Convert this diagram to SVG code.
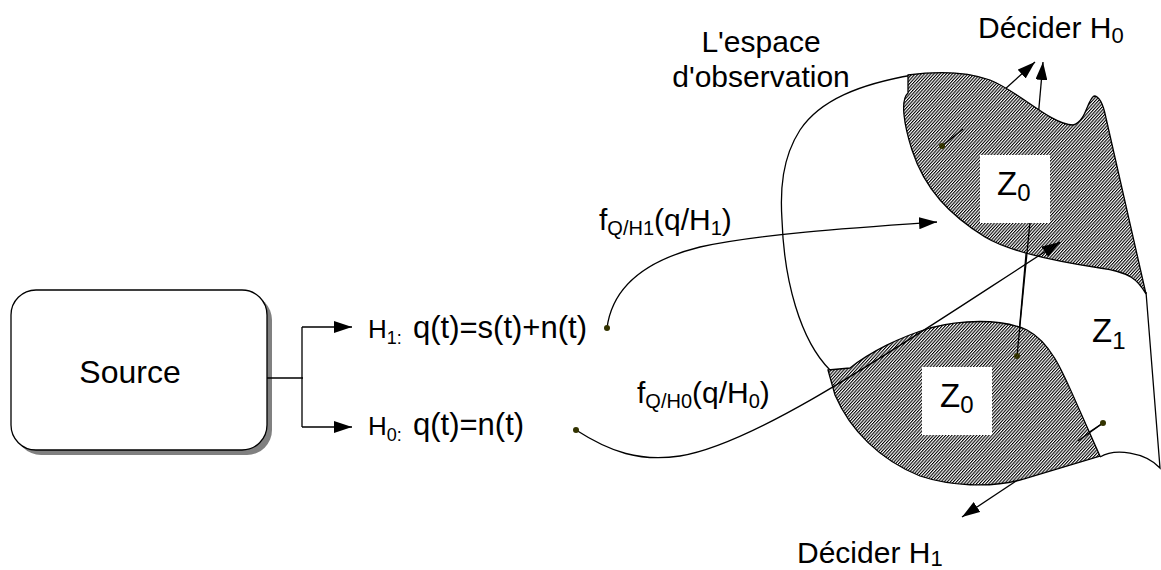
<svg xmlns="http://www.w3.org/2000/svg" width="1161" height="570" viewBox="0 0 1161 570">
<style>
text{font-family:"Liberation Sans",Arial,sans-serif;fill:#000}
.ln{fill:none;stroke:#000;stroke-width:1.3}
.rg{fill:url(#hatch);stroke:#000;stroke-width:1.3}
.dot{fill:#333300}
.zb{fill:#fff;stroke:none}
</style>
<defs>
<pattern id="hatch" width="2.3" height="10" patternUnits="userSpaceOnUse" patternTransform="rotate(42)">
<rect width="2.3" height="10" fill="#fff"/>
<line x1="0.55" y1="0" x2="0.55" y2="10" stroke="#000" stroke-width="1.1"/>
</pattern>
<marker id="ah" viewBox="0 0 18 12" refX="18" refY="6" markerUnits="userSpaceOnUse" markerWidth="18" markerHeight="12" orient="auto">
<path d="M0,0 L18,6 L0,12 Z" fill="#000"/>
</marker>
</defs>
<rect width="1161" height="570" fill="#fff"/>

<g id="source">
<rect x="16" y="295" width="256" height="160" rx="25" fill="#808080"/>
<rect x="11" y="290" width="256" height="160" rx="25" fill="#fff" stroke="#000" stroke-width="1.3"/>
<text x="130" y="383" font-size="32" text-anchor="middle">Source</text>
</g>

<g id="connectors">
<path class="ln" d="M267,378 H303 M302,327 V427"/>
<path class="ln" d="M302,327 H352" marker-end="url(#ah)"/>
<path class="ln" d="M302,427 H352" marker-end="url(#ah)"/>
<path class="ln" d="M1103,423 L962,517" marker-end="url(#ah)"/>
<path class="ln" d="M942,146 L1035,62" marker-end="url(#ah)"/>
<path class="ln" d="M1017,356 L1043,62" marker-end="url(#ah)"/>
<path class="ln" d="M607,328 C612,290 640,262 700,247 C760,234 850,228 937,222" marker-end="url(#ah)"/>
<path class="ln" d="M913,75 C860,84 820,100 800,130 C782,158 780,190 782,220 C784,280 800,340 830,370"/>
<path class="ln" d="M1146,292 L1160,468 C1145,452 1115,448 1100,457"/>
</g>

<g id="region-z0-bottom">
<path class="rg" d="M828,370 L850,368 C870,352 900,337 930,328 C960,320 1000,318 1027,330 C1050,342 1062,370 1075,400 L1100,456 L1020,480 C990,488 950,486 920,476 C880,460 850,430 835,395 Z"/>
</g>

<g id="region-z0-top">
<path class="rg" d="M908,75 C930,72 962,70 990,80 C1020,92 1050,124 1073,125 C1086,122 1087,100 1094,96 C1100,96 1104,108 1106,118 L1146,294 C1138,280 1130,272 1100,268 C1060,262 1010,252 985,237 C950,215 925,190 912,150 C904,125 900,100 908,93 Z"/>
</g>

<g id="connectors-front">
<path class="ln" d="M576,430 C610,452 640,462 680,456 C760,443 900,345 1060,242" marker-end="url(#ah)"/>
<path class="ln" d="M1017,356 L1030,222"/>
<path class="ln" d="M942,146 L963,129"/>
<path class="ln" d="M1103,423 L1078,441"/>
</g>

<g id="z0-top">
<rect class="zb" x="980" y="155" width="70" height="68"/>
<text x="997" y="195" font-size="33">Z<tspan font-size="24" dy="6">0</tspan></text>
</g>
<g id="z0-bottom">
<rect class="zb" x="922" y="367" width="70" height="68"/>
<text x="940" y="407" font-size="33">Z<tspan font-size="24" dy="6">0</tspan></text>
</g>
<g id="z1">
<text x="1092" y="342" font-size="33">Z<tspan font-size="24" dy="7">1</tspan></text>
</g>

<g id="dots">
<circle class="dot" cx="607" cy="328" r="3"/>
<circle class="dot" cx="576" cy="430" r="3"/>
<circle class="dot" cx="942" cy="146" r="3"/>
<circle class="dot" cx="1017" cy="356" r="3"/>
<circle class="dot" cx="1103" cy="423" r="3"/>
</g>

<g id="labels">
<text x="368" y="338" font-size="26">H<tspan font-size="18" dy="6">1:</tspan></text>
<text x="413" y="338" font-size="31">q(t)=s(t)+n(t)</text>
<text x="368" y="435" font-size="26">H<tspan font-size="18" dy="6">0:</tspan></text>
<text x="413" y="435" font-size="31">q(t)=n(t)</text>
<text x="599" y="230" font-size="30">f<tspan font-size="20" dy="5">Q/H1</tspan><tspan dy="-5">(q/H</tspan><tspan font-size="20" dy="5">1</tspan><tspan dy="-5">)</tspan></text>
<text x="637" y="403" font-size="30">f<tspan font-size="20" dy="5">Q/H0</tspan><tspan dy="-5">(q/H</tspan><tspan font-size="20" dy="5">0</tspan><tspan dy="-5">)</tspan></text>
<text x="761" y="52" font-size="30" text-anchor="middle">L'espace</text>
<text x="761" y="87" font-size="30" text-anchor="middle">d'observation</text>
<text x="978" y="38" font-size="30">Décider H<tspan font-size="22" dy="5">0</tspan></text>
<text x="797" y="563" font-size="30">Décider H<tspan font-size="22" dy="3">1</tspan></text>
</g>
</svg>
